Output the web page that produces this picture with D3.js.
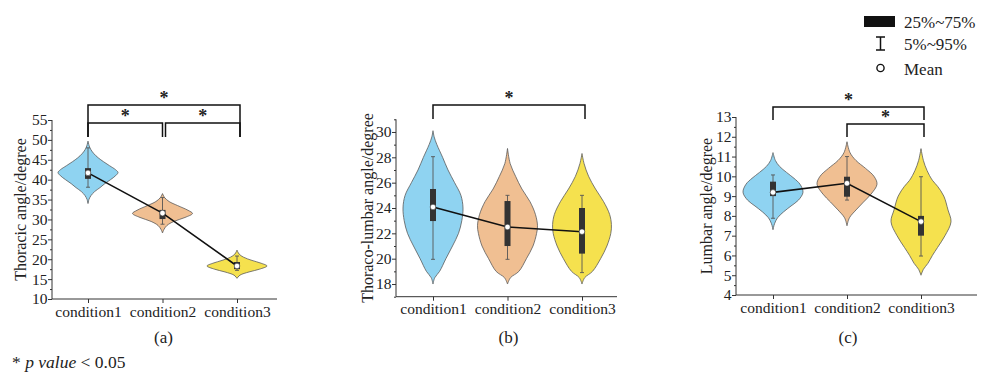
<!DOCTYPE html>
<html><head><meta charset="utf-8">
<script src="https://cdn.jsdelivr.net/npm/d3@7/dist/d3.min.js"></script>
<style>
html,body{margin:0;padding:0;background:#fff;}
svg text{font-family:'Liberation Serif','Times New Roman',serif !important;fill:#222;}
</style></head>
<body><svg id="chart" width="981" height="376" font-family="Liberation Serif"></svg>
<script>
const categories = ["condition1","condition2","condition3"];
const colors = ["#8fd3f1","#f0bf92","#f5e14e"];

// (a) Thoracic
const thoracicTicks = [10,15,20,25,30,35,40,45,50,55];
const thoracicMean = [41.7, 31.6, 18.3];
const thoracicQ1 = [40.2, 30.1, 17.5];
const thoracicQ3 = [42.9, 32.4, 19.3];
const thoracicP5 = [38.1, 28.8, 17.2];
const thoracicP95 = [48.0, 35.5, 20.8];
const thoracicDensity = [
  [[34,0],[35,0.03],[36,0.1],[37,0.22],[38,0.4],[39,0.56],[40,0.75],[41,0.92],[41.8,1],[42.5,0.92],[43.5,0.72],[44.5,0.52],[45.5,0.34],[46.5,0.2],[47.5,0.1],[48.5,0.04],[49.7,0]],
  [[26.6,0],[27.5,0.05],[28.5,0.15],[29.5,0.38],[30.5,0.75],[31.5,1],[32.3,0.85],[33.5,0.5],[34.5,0.22],[35.5,0.07],[36.5,0]],
  [[15.2,0],[16,0.1],[16.8,0.4],[17.5,0.75],[18.3,1],[19,0.8],[19.7,0.5],[20.5,0.22],[21.3,0.07],[22.3,0]]
];

// (b) Thoraco-lumbar
const thoracoLumbarTicks = [18,20,22,24,26,28,30];
const thoracoLumbarMean = [24.08, 22.5, 22.13];
const thoracoLumbarQ1 = [22.97, 21.0, 20.4];
const thoracoLumbarQ3 = [25.5, 24.55, 24.0];
const thoracoLumbarP5 = [19.95, 19.95, 18.9];
const thoracoLumbarP95 = [28.05, 25.0, 25.0];
const thoracoLumbarDensity = [
  [[18,0],[18.5,0.06],[19,0.22],[20,0.43],[21,0.65],[22,0.85],[23,0.96],[24,1],[25,0.93],[26,0.72],[27,0.5],[28,0.32],[29,0.13],[29.6,0.04],[30.1,0]],
  [[18,0],[18.5,0.1],[19,0.38],[20,0.63],[21,0.85],[22,0.97],[22.6,1],[23.5,0.93],[24.5,0.75],[25.5,0.48],[26.5,0.27],[27.5,0.09],[28.7,0]],
  [[18,0],[18.5,0.09],[19,0.35],[20,0.62],[21,0.83],[22,0.96],[22.7,0.98],[23.5,0.92],[24.5,0.72],[25.5,0.45],[26.5,0.22],[27.5,0.07],[28.3,0]]
];

// (c) Lumbar
const lumbarTicks = [4,5,6,7,8,9,10,11,12,13];
const lumbarMean = [9.19, 9.65, 7.71];
const lumbarQ1 = [9.0, 8.97, 7.0];
const lumbarQ3 = [9.73, 9.98, 8.0];
const lumbarP5 = [7.88, 8.8, 5.97];
const lumbarP95 = [10.07, 11.0, 9.98];
const lumbarDensity = [
  [[7.3,0],[7.6,0.05],[7.9,0.15],[8.2,0.35],[8.5,0.6],[8.8,0.85],[9.2,1],[9.6,0.9],[9.9,0.7],[10.2,0.45],[10.5,0.22],[10.8,0.08],[11.2,0]],
  [[7.5,0],[7.9,0.08],[8.3,0.3],[8.7,0.55],[9.1,0.8],[9.6,1],[10.0,0.9],[10.4,0.62],[10.8,0.3],[11.2,0.1],[11.75,0]],
  [[5,0],[5.3,0.08],[5.6,0.23],[6,0.38],[6.4,0.55],[7,0.8],[7.7,1],[8.3,0.9],[9,0.76],[9.5,0.55],[9.8,0.38],[10.3,0.2],[10.8,0.08],[11.4,0]]
];

const yLabels = ["Thoracic angle/degree","Thoraco-lumbar angle/degree","Lumbar angle/degree"];
const panelLabels = ["(a)","(b)","(c)"];
const legendLabels = ["25%~75%","5%~95%","Mean"];
const noteText = ["* ","p value"," < 0.05"];

const FONT = "Liberation Serif";
const svg = d3.select("#chart");

const panels = [
  {ticks:thoracicTicks, minor:d3.range(12.5,55,5), mean:thoracicMean, q1:thoracicQ1, q3:thoracicQ3, p5:thoracicP5, p95:thoracicP95, dens:thoracicDensity,
   yDom:[10,55], yRange:[299,120], xRange:[88,237], axisX:[52,277], labelX:20, panelLabel:panelLabels[0], yLabel:yLabels[0],
   brackets:[{a:0,b:2,y:105,leg:137},{a:0,b:1,y:123,leg:137,shiftB:-3},{a:1,b:2,y:123,leg:137,shiftA:3}]},
  {ticks:thoracoLumbarTicks, minor:d3.range(17,31.1,2), mean:thoracoLumbarMean, q1:thoracoLumbarQ1, q3:thoracoLumbarQ3, p5:thoracoLumbarP5, p95:thoracoLumbarP95, dens:thoracoLumbarDensity,
   yDom:[17,31], yRange:[296.7,119.3], xRange:[433,582], axisX:[396,617], labelX:367, panelLabel:panelLabels[1], yLabel:yLabels[1],
   brackets:[{a:0,b:2,y:105,leg:119}]},
  {ticks:lumbarTicks, minor:d3.range(4.5,13,1), mean:lumbarMean, q1:lumbarQ1, q3:lumbarQ3, p5:lumbarP5, p95:lumbarP95, dens:lumbarDensity,
   yDom:[4,13], yRange:[295,117], xRange:[773,921], axisX:[736,977], labelX:706, panelLabel:panelLabels[2], yLabel:yLabels[2],
   brackets:[{a:0,b:2,y:107,leg:120},{a:1,b:2,y:124,leg:137}]}
];

const w = d3.scaleLinear().domain([0,1]).range([0,30]);

panels.forEach(p => {
  const x = d3.scalePoint().domain(categories).range(p.xRange);
  const y = d3.scaleLinear().domain(p.yDom).range(p.yRange);
  const g = svg.append("g");

  categories.forEach((c,i) => {
    const cx = x(c);
    const area = d3.area()
      .y(d => y(d[0]))
      .x0(d => cx - w(d[1]))
      .x1(d => cx + w(d[1]))
      .curve(d3.curveCatmullRom.alpha(0.5));
    g.append("path").attr("d", area(p.dens[i]))
      .attr("fill", colors[i]).attr("stroke", "#5a5a5a").attr("stroke-width", 0.8);
  });

  categories.forEach((c,i) => {
    const cx = x(c);
    g.append("line").attr("x1",cx).attr("x2",cx).attr("y1",y(p.p5[i])).attr("y2",y(p.p95[i]))
      .attr("stroke","#555").attr("stroke-width",0.9);
    [p.p5[i], p.p95[i]].forEach(v => {
      g.append("line").attr("x1",cx-2).attr("x2",cx+2).attr("y1",y(v)).attr("y2",y(v))
        .attr("stroke","#555").attr("stroke-width",0.9);
    });
    g.append("rect").attr("x",cx-3).attr("width",6)
      .attr("y",y(p.q3[i])).attr("height",y(p.q1[i])-y(p.q3[i]))
      .attr("fill","#333");
  });

  g.append("path").datum(categories.map((c,i)=>[x(c), y(p.mean[i])]))
    .attr("d", d3.line()).attr("fill","none").attr("stroke","#111").attr("stroke-width",1.6);
  categories.forEach((c,i) => {
    g.append("circle").attr("cx",x(c)).attr("cy",y(p.mean[i])).attr("r",2.8)
      .attr("fill","#fff").attr("stroke","#333").attr("stroke-width",0.6);
  });

  const yAxis = g.append("g").attr("transform",`translate(${p.axisX[0]},0)`)
    .call(d3.axisLeft(y).tickValues(p.ticks).tickSize(4).tickSizeOuter(0));
  yAxis.attr("font-family",FONT);
  yAxis.select(".domain").remove();
  yAxis.selectAll("text").attr("font-size",15.5).attr("x",-4.5).attr("font-family",FONT).attr("fill","#222");
  yAxis.selectAll("line").attr("stroke","#333");
  const yMinor = g.append("g").attr("transform",`translate(${p.axisX[0]},0)`)
    .call(d3.axisLeft(y).tickValues(p.minor).tickSize(2).tickFormat(""));
  yMinor.select(".domain").remove();
  yMinor.selectAll("line").attr("stroke","#333");
  g.append("line").attr("x1",p.axisX[0]).attr("x2",p.axisX[0])
    .attr("y1",p.yRange[1]).attr("y2",p.yRange[0]).attr("stroke","#333").attr("stroke-width",1);

  const xAxis = g.append("g").attr("transform",`translate(0,${p.yRange[0]})`)
    .call(d3.axisBottom(x).tickSize(4).tickSizeOuter(0));
  xAxis.attr("font-family",FONT);
  xAxis.select(".domain").remove();
  xAxis.selectAll("text").attr("font-size",15.5).attr("y",6.5).attr("font-family",FONT).attr("fill","#222");
  xAxis.selectAll("line").attr("stroke","#333");
  g.append("line").attr("x1",p.axisX[0]).attr("x2",p.axisX[1])
    .attr("y1",p.yRange[0]).attr("y2",p.yRange[0]).attr("stroke","#333").attr("stroke-width",1);

  g.append("text").attr("transform",`translate(${p.labelX},${(p.yRange[0]+p.yRange[1])/2}) rotate(-90)`)
    .attr("text-anchor","middle").attr("dominant-baseline","central").attr("font-family",FONT)
    .attr("font-size",16).text(p.yLabel);

  g.append("text").attr("x",x(categories[1])+1).attr("y",343).attr("text-anchor","middle")
    .attr("font-family",FONT).attr("font-size",17).text(p.panelLabel);

  p.brackets.forEach(b => {
    const xa = x(categories[b.a]) + (b.shiftA||0);
    const xb = x(categories[b.b]) + 3 + (b.shiftB||0);
    g.append("path").attr("d",`M${xa},${b.leg}V${b.y}H${xb}V${b.leg}`)
      .attr("fill","none").attr("stroke","#111").attr("stroke-width",1.5);
    g.append("text").attr("x",(xa+xb)/2).attr("y",b.y-1).attr("text-anchor","middle")
      .attr("font-family",FONT).attr("font-size",18).attr("font-weight","bold").text("*");
  });
});

const lg = svg.append("g");
lg.append("rect").attr("x",864).attr("y",16).attr("width",31).attr("height",11).attr("fill","#111");
lg.append("path").attr("d","M876,37H885M880.5,37V50M876,50H885").attr("stroke","#111").attr("stroke-width",1.5).attr("fill","none");
lg.append("circle").attr("cx",880.5).attr("cy",68).attr("r",3.6).attr("fill","#fff").attr("stroke","#111").attr("stroke-width",1.4);
legendLabels.forEach((t,i) => {
  lg.append("text").attr("x",904).attr("y",[27.5,49.5,74.5][i]).attr("font-family",FONT).attr("font-size",17).text(t);
});

const note = svg.append("text").attr("x",12).attr("y",368).attr("font-family",FONT).attr("font-size",17.5);
note.append("tspan").text(noteText[0]);
note.append("tspan").attr("font-style","italic").text(noteText[1]);
note.append("tspan").text(noteText[2]);
</script></body></html>
